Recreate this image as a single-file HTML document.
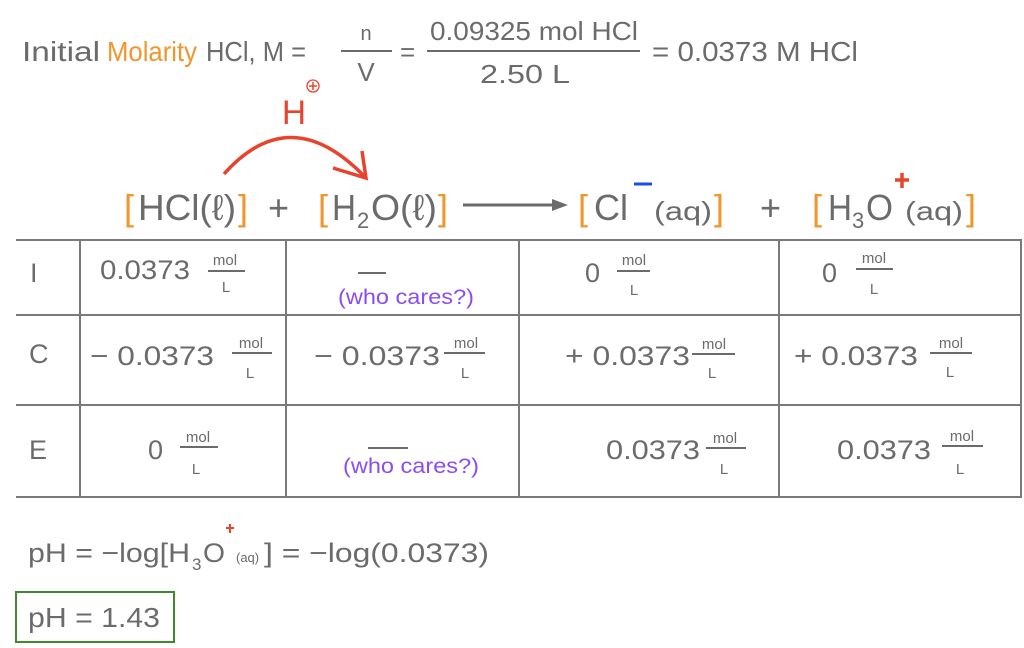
<!DOCTYPE html>
<html><head><meta charset="utf-8"><style>
html,body{margin:0;padding:0;background:#fff;width:1024px;height:648px;overflow:hidden}
svg{display:block}
text{font-family:"Liberation Sans",sans-serif;fill:#6b6b6b}
.o{fill:#f0962e}.r{fill:#e8432c}.p{fill:#8b4cf5}
</style></head><body>
<svg width="1024" height="648" viewBox="0 0 1024 648" xmlns="http://www.w3.org/2000/svg">
<g stroke="#6b6b6b" stroke-width="2" fill="none">
<line x1="341" y1="51" x2="392" y2="51"/>
<line x1="427" y1="51" x2="640" y2="51"/>
<line x1="463" y1="205" x2="555" y2="205" stroke-width="3"/>
</g>
<polygon points="552,199 568,205 552,211" fill="#6b6b6b"/>
<text x="22" y="61" font-size="28" textLength="78" lengthAdjust="spacingAndGlyphs">Initial</text>
<text x="107" y="61" font-size="28" class="o" textLength="90" lengthAdjust="spacingAndGlyphs">Molarity</text>
<text x="206" y="61" font-size="28" textLength="100" lengthAdjust="spacingAndGlyphs">HCl, M =</text>
<text x="366" y="40" font-size="20" text-anchor="middle">n</text>
<text x="366" y="81" font-size="26" text-anchor="middle">V</text>
<text x="400" y="61" font-size="26">=</text>
<text x="430" y="40" font-size="26" textLength="208" lengthAdjust="spacingAndGlyphs">0.09325 mol HCl</text>
<text x="480" y="83" font-size="26" textLength="90" lengthAdjust="spacingAndGlyphs">2.50 L</text>
<text x="652" y="61" font-size="28" textLength="206" lengthAdjust="spacingAndGlyphs">= 0.0373 M HCl</text>
<text x="282" y="124" font-size="34" class="r" textLength="24" lengthAdjust="spacingAndGlyphs">H</text>
<circle cx="313" cy="86" r="6" fill="none" stroke="#e8432c" stroke-width="1.3"/>
<path d="M309 86h8M313 82v8" stroke="#e8432c" stroke-width="1.5"/>
<path d="M224 174 Q 290 100 364 176" stroke="#e8432c" stroke-width="3.5" fill="none"/>
<path d="M333 168 L366 178 L362 151" stroke="#e8432c" stroke-width="3.5" fill="none"/>
<g font-size="36">
<text x="124" y="220" class="o">[</text>
<text x="138" y="220" textLength="98" lengthAdjust="spacingAndGlyphs">HCl(ℓ)</text>
<text x="238" y="220" class="o">]</text>
<text x="268" y="220">+</text>
<text x="318" y="220" class="o">[</text>
<text x="332" y="220" textLength="24" lengthAdjust="spacingAndGlyphs">H</text>
<text x="357" y="228" font-size="22">2</text>
<text x="371" y="220" textLength="66" lengthAdjust="spacingAndGlyphs">O(ℓ)</text>
<text x="438" y="220" class="o">]</text>
<text x="578" y="220" class="o">[</text>
<text x="594" y="220" textLength="34" lengthAdjust="spacingAndGlyphs">Cl</text>
<text x="654" y="220" font-size="26" textLength="58" lengthAdjust="spacingAndGlyphs">(aq)</text>
<text x="714" y="220" class="o">]</text>
<text x="760" y="220">+</text>
<text x="812" y="220" class="o">[</text>
<text x="828" y="220" textLength="24" lengthAdjust="spacingAndGlyphs">H</text>
<text x="852" y="228" font-size="22">3</text>
<text x="866" y="220" textLength="27" lengthAdjust="spacingAndGlyphs">O</text>
<text x="905" y="220" font-size="26" textLength="58" lengthAdjust="spacingAndGlyphs">(aq)</text>
<text x="966" y="220" class="o">]</text>
</g>
<line x1="634" y1="184" x2="652" y2="184" stroke="#1f4fe0" stroke-width="3"/>
<path d="M895 180h14M902 173v15" stroke="#e8432c" stroke-width="3.5"/>
<g stroke="#7a7a7a" stroke-width="2" fill="none">
<line x1="16" y1="240" x2="1022" y2="240"/>
<line x1="16" y1="315" x2="1022" y2="315"/>
<line x1="16" y1="405" x2="1022" y2="405"/>
<line x1="16" y1="497" x2="1022" y2="497"/>
<line x1="80" y1="240" x2="80" y2="497"/>
<line x1="286" y1="240" x2="286" y2="497"/>
<line x1="519" y1="240" x2="519" y2="497"/>
<line x1="779" y1="240" x2="779" y2="497"/>
<line x1="1021" y1="240" x2="1021" y2="497"/>
</g>
<g font-size="27">
<text x="30" y="282">I</text>
<text x="29" y="363">C</text>
<text x="29" y="459">E</text>
<text x="100" y="279" textLength="90" lengthAdjust="spacingAndGlyphs">0.0373</text>
<text x="90" y="365" textLength="124" lengthAdjust="spacingAndGlyphs">− 0.0373</text>
<text x="314" y="365" textLength="126" lengthAdjust="spacingAndGlyphs">− 0.0373</text>
<text x="565" y="365" textLength="125" lengthAdjust="spacingAndGlyphs">+ 0.0373</text>
<text x="794" y="365" textLength="124" lengthAdjust="spacingAndGlyphs">+ 0.0373</text>
<text x="585" y="282">0</text>
<text x="822" y="282">0</text>
<text x="148" y="459">0</text>
<text x="606" y="459" textLength="94" lengthAdjust="spacingAndGlyphs">0.0373</text>
<text x="837" y="459" textLength="94" lengthAdjust="spacingAndGlyphs">0.0373</text>
</g>
<g font-size="15" text-anchor="middle">
<text x="225" y="265">mol</text><line x1="208" y1="271" x2="245" y2="271" stroke="#6b6b6b" stroke-width="2"/><text x="226" y="292">L</text>
<text x="251" y="348">mol</text><line x1="232" y1="353" x2="272" y2="353" stroke="#6b6b6b" stroke-width="2"/><text x="250" y="378">L</text>
<text x="466" y="348">mol</text><line x1="444" y1="353" x2="485" y2="353" stroke="#6b6b6b" stroke-width="2"/><text x="465" y="378">L</text>
<text x="714" y="349">mol</text><line x1="692" y1="354" x2="735" y2="354" stroke="#6b6b6b" stroke-width="2"/><text x="712" y="378">L</text>
<text x="951" y="348">mol</text><line x1="930" y1="353" x2="972" y2="353" stroke="#6b6b6b" stroke-width="2"/><text x="950" y="377">L</text>
<text x="634" y="265">mol</text><line x1="617" y1="271" x2="650" y2="271" stroke="#6b6b6b" stroke-width="2"/><text x="634" y="295">L</text>
<text x="874" y="263">mol</text><line x1="856" y1="269" x2="893" y2="269" stroke="#6b6b6b" stroke-width="2"/><text x="874" y="294">L</text>
<text x="198" y="442">mol</text><line x1="180" y1="447" x2="218" y2="447" stroke="#6b6b6b" stroke-width="2"/><text x="196" y="474">L</text>
<text x="725" y="443">mol</text><line x1="706" y1="448" x2="746" y2="448" stroke="#6b6b6b" stroke-width="2"/><text x="724" y="474">L</text>
<text x="962" y="441">mol</text><line x1="942" y1="446" x2="983" y2="446" stroke="#6b6b6b" stroke-width="2"/><text x="960" y="474">L</text>
</g>
<line x1="358" y1="273" x2="386" y2="273" stroke="#6b6b6b" stroke-width="2"/>
<text x="338" y="304" font-size="21" class="p" textLength="136" lengthAdjust="spacingAndGlyphs">(who cares?)</text>
<line x1="368" y1="448" x2="408" y2="448" stroke="#6b6b6b" stroke-width="2"/>
<text x="343" y="473" font-size="21" class="p" textLength="136" lengthAdjust="spacingAndGlyphs">(who cares?)</text>
<text x="28" y="562" font-size="27" textLength="162" lengthAdjust="spacingAndGlyphs">pH = −log[H</text>
<text x="192" y="570" font-size="17">3</text>
<text x="203" y="562" font-size="27" textLength="22" lengthAdjust="spacingAndGlyphs">O</text>
<text x="236" y="562" font-size="13">(aq)</text>
<text x="264" y="562" font-size="27" textLength="225" lengthAdjust="spacingAndGlyphs">] = −log(0.0373)</text>
<path d="M226 528h8M230 524v9" stroke="#e8432c" stroke-width="2"/>
<rect x="16" y="592" width="158" height="50" fill="none" stroke="#3f8a2a" stroke-width="2"/>
<text x="28" y="627" font-size="28" textLength="132" lengthAdjust="spacingAndGlyphs">pH = 1.43</text>
</svg>
</body></html>
